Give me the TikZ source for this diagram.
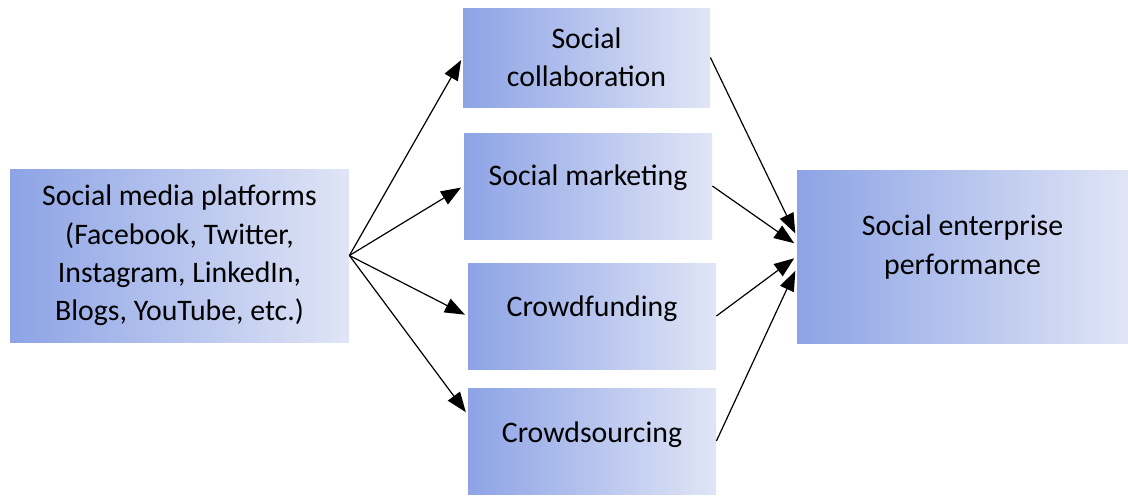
\documentclass[tikz,border=0pt]{standalone}
\usepackage{fontspec}
\setmainfont{Carlito}
\usetikzlibrary{shapes, arrows.meta, positioning}

\definecolor{boxdark}{HTML}{8DA3E5}
\definecolor{boxlight}{HTML}{E0E5F6}

\begin{document}
\begin{tikzpicture}[auto, >={Triangle[length=10pt,width=7.5pt]}, x=0.5pt, y=-0.5pt]

\tikzstyle{block} = [shape=rectangle, left color=boxdark, right color=boxlight, inner sep=0pt, align=center, font=\fontsize{14.9}{19.2}\selectfont]
\tikzstyle{small} = [block, minimum width=124pt, minimum height=53pt]
\tikzstyle{big} = [block, minimum width=168pt, minimum height=86.5pt]
\tikzstyle{link} = [->, line width=0.6pt, shorten >=1.5pt]

\useasboundingbox (0,0) rectangle (1128,495);

%Creating Blocks
\node [big, minimum width=169.5pt] at (179.5,255.5) (platforms) {Social media platforms\\(Facebook, Twitter,\\Instagram, LinkedIn,\\Blogs, YouTube, etc.)};
\node [small, minimum width=123.5pt, minimum height=49.5pt] at (586.5,57.5) (collab) {Social\\collaboration};
\node [small, text depth=11pt] at (588,186) (marketing) {Social marketing};
\node [small, text depth=10pt] at (592,316) (funding) {Crowdfunding};
\node [small, text depth=9pt] at (592,441) (sourcing) {Crowdsourcing};
\node [big, minimum width=165.5pt, text depth=12pt] at (962.5,256.5) (performance) {Social enterprise\\performance};

%Connecting Blocks
\draw[link] (platforms.east) -- (collab.west);
\draw[link] (platforms.east) -- (marketing.west);
\draw[link] (platforms.east) -- (funding.west);
\draw[link] (platforms.east) -- (sourcing.168);
\draw[link] (collab.east) -- (performance.173);
\draw[link] (marketing.east) -- (performance.176);
\draw[link] (funding.east) -- (performance.180);
\draw[link] (sourcing.east) -- (performance.184);

\end{tikzpicture}
\end{document}
